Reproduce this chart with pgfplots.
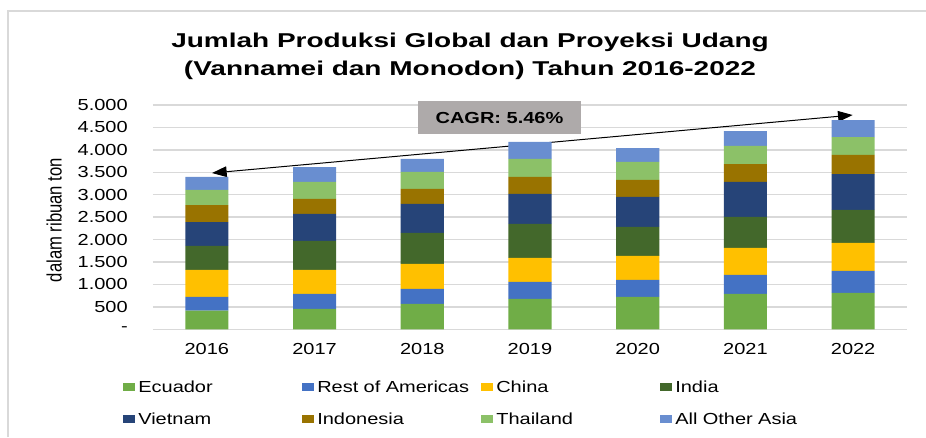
\documentclass[border=0pt]{standalone}
\usepackage{pgfplots}
\pgfplotsset{compat=1.18}
\usepackage{fontspec}
\setmainfont[FakeStretch=1.25]{Liberation Sans}
\newfontfamily\titlefont[FakeStretch=1.4]{Liberation Sans}
\newfontfamily\plainfont{Liberation Sans}
\usetikzlibrary{arrows.meta}
\definecolor{ecuador}{HTML}{70AD47}
\definecolor{roa}{HTML}{4472C4}
\definecolor{china}{HTML}{FFC000}
\definecolor{india}{HTML}{43682B}
\definecolor{vietnam}{HTML}{264478}
\definecolor{indonesia}{HTML}{997300}
\definecolor{thailand}{HTML}{8CC168}
\definecolor{otherasia}{HTML}{698ED0}
\definecolor{gridgray}{HTML}{D9D9D9}
\definecolor{cagr}{HTML}{AEAAAA}
\pgfplotsset{sq/.style={fill=#1, draw=none, legend image code/.code={\fill[fill=#1] (0pt,-2.75pt) rectangle (8.75pt,2.75pt);}}}
\begin{document}
\begin{tikzpicture}
\useasboundingbox (0pt,0pt) rectangle (694.5pt,327.75pt);
\draw[color=gridgray, line width=1.5pt] (6pt,0pt) -- (6pt,319.5pt) -- (694.5pt,319.5pt);
\node[font=\titlefont\bfseries\fontsize{15}{21}\selectfont, align=center] at (352.5pt,285.75pt) {Jumlah Produksi Global dan Proyeksi Udang\\(Vannamei dan Monodon) Tahun 2016-2022};
\begin{axis}[
  at={(114.75pt,80.78pt)}, anchor=south west,
  scale only axis, width=565.5pt, height=168.2pt,
  ybar stacked, bar width=0.4,
  xmin=-0.5, xmax=6.5, ymin=0, ymax=5000,
  xtick={0,1,2,3,4,5,6},
  xticklabels={2016,2017,2018,2019,2020,2021,2022},
  ytick={0,500,1000,1500,2000,2500,3000,3500,4000,4500,5000},
  yticklabels={-,500,1.000,1.500,2.000,2.500,3.000,3.500,4.000,4.500,5.000},
  ymajorgrids, major grid style={draw=gridgray, line width=1pt},
  axis line style={draw=none},
  major tick length=0pt,
  tick label style={font=\fontsize{12}{14}\selectfont, text=black},
  yticklabel style={inner sep=0pt, anchor=east, xshift=-18.75pt},
  xticklabel style={inner sep=0pt, anchor=north, yshift=-10.3pt},
  ylabel={dalam ribuan ton},
  ylabel style={font=\plainfont\fontsize{12.5}{14}\selectfont, at={(axis description cs:-0.131,0.487)}, anchor=center, yscale=1.25},
  clip=false,
  legend columns=4,
  legend style={at={(-0.0394,-0.2318)}, anchor=north west, draw=none, fill=none,
    inner sep=0pt, outer sep=0pt, /tikz/column sep=0pt, /tikz/row sep=15.4pt,
    cells={anchor=west},
    nodes={inner xsep=2.5pt, inner ysep=0pt, text height=8.6pt, text depth=0pt, text width=120.5pt, font=\fontsize{12}{14}\selectfont}},
]
\addplot[sq=ecuador] coordinates {(0,416) (1,453) (2,565) (3,676) (4,721) (5,788) (6,810)};
\addlegendentry{Ecuador}
\addplot[sq=roa] coordinates {(0,305) (1,335) (2,334) (3,379) (4,379) (5,423) (6,490)};
\addlegendentry{Rest of Americas}
\addplot[sq=china] coordinates {(0,602) (1,535) (2,557) (3,535) (4,535) (5,602) (6,624)};
\addlegendentry{China}
\addplot[sq=india] coordinates {(0,535) (1,646) (2,691) (3,758) (4,646) (5,691) (6,736)};
\addlegendentry{India}
\addplot[sq=vietnam] coordinates {(0,534) (1,602) (2,647) (3,669) (4,669) (5,780) (6,802)};
\addlegendentry{Vietnam}
\addplot[sq=indonesia] coordinates {(0,379) (1,334) (2,334) (3,379) (4,379) (5,401) (6,424)};
\addlegendentry{Indonesia}
\addplot[sq=thailand] coordinates {(0,335) (1,379) (2,379) (3,401) (4,401) (5,402) (6,401)};
\addlegendentry{Thailand}
\addplot[sq=otherasia] coordinates {(0,290) (1,334) (2,290) (3,379) (4,312) (5,334) (6,379)};
\addlegendentry{All Other Asia}
\draw[{Triangle[length=11pt,width=8pt]}-{Triangle[length=11pt,width=8pt]}, line width=0.75pt, black] (axis cs:0.048,3484) -- (axis cs:5.996,4777);
\node[fill=cagr, minimum width=122.5pt, minimum height=24.25pt, inner sep=0pt, font=\bfseries\fontsize{12}{14}\selectfont] at (axis cs:2.717,4721) {CAGR: 5.46\%};
\end{axis}
\end{tikzpicture}
\end{document}
